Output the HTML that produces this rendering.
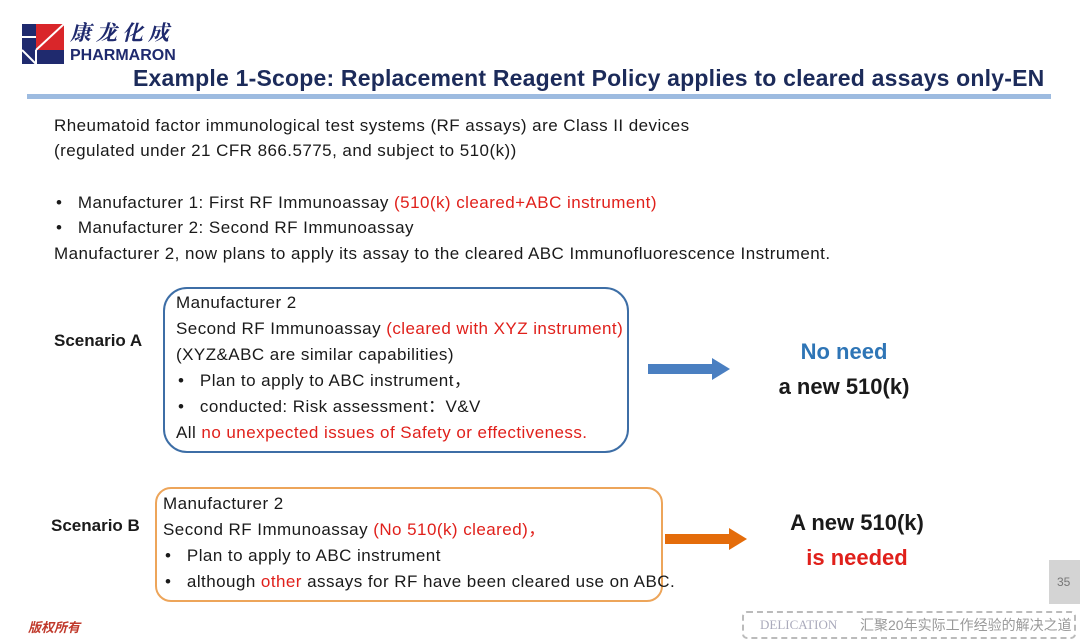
<!DOCTYPE html>
<html><head><meta charset="utf-8"><style>
body{margin:0;width:1080px;height:644px;background:#fff;position:relative;overflow:hidden;font-family:"Liberation Sans","Noto Sans CJK SC",sans-serif;color:#1a1a1a}
.t{position:absolute;white-space:nowrap;font-size:17px;line-height:20px;letter-spacing:0.45px}
.r{color:#e0201b}
.b{font-weight:bold}
</style></head><body>
<svg style="position:absolute;left:22px;top:24px" width="42" height="40">
<rect x="0" y="0" width="42" height="40" fill="#1f2a6e"/>
<polygon points="14,0 42,0 42,26 14,26" fill="#d9262a"/>
<line x1="14" y1="26" x2="42" y2="0" stroke="#fff" stroke-width="2"/>
<line x1="0" y1="26" x2="14" y2="40" stroke="#fff" stroke-width="2"/>
<line x1="14" y1="26" x2="14" y2="40" stroke="#fff" stroke-width="2"/>
<line x1="0" y1="13" x2="14" y2="13" stroke="#fff" stroke-width="2"/>
</svg>
<div class="t b" style="left:70px;top:22px;font-size:21px;color:#1f2a6e;font-family:'Noto Serif CJK SC',serif;letter-spacing:5px;font-style:italic">康龙化成</div>
<div class="t b" style="left:70px;top:46px;font-size:16px;color:#1f2a6e;letter-spacing:0">PHARMARON</div>
<div class="t b" style="left:133px;top:64px;font-size:23px;line-height:28px;color:#1c2b5a;letter-spacing:0.2px">Example 1-Scope: Replacement Reagent Policy applies to cleared assays only-EN</div>
<div style="position:absolute;left:27px;top:94px;width:1024px;height:5px;background:#9dbbe0"></div>

<div class="t" style="left:54px;top:116px">Rheumatoid factor immunological test systems (RF assays) are Class II devices</div>
<div class="t" style="left:54px;top:141px">(regulated under 21 CFR 866.5775, and subject to 510(k))</div>
<div class="t" style="left:56px;top:193px">•&nbsp;&nbsp;&nbsp;Manufacturer 1: First RF Immunoassay <span class="r">(510(k) cleared+ABC instrument)</span></div>
<div class="t" style="left:56px;top:218px">•&nbsp;&nbsp;&nbsp;Manufacturer 2: Second RF Immunoassay</div>
<div class="t" style="left:54px;top:244px">Manufacturer 2, now plans to apply its assay to the cleared ABC Immunofluorescence Instrument.</div>

<div style="position:absolute;left:163px;top:287px;width:462px;height:162px;border:2px solid #3d6ea6;border-radius:24px"></div>
<div class="t b" style="left:54px;top:331px;letter-spacing:0">Scenario A</div>
<div class="t" style="left:176px;top:293px">Manufacturer 2</div>
<div class="t" style="left:176px;top:319px">Second RF Immunoassay <span class="r">(cleared with XYZ instrument)</span></div>
<div class="t" style="left:176px;top:345px">(XYZ&amp;ABC are similar capabilities)</div>
<div class="t" style="left:178px;top:371px">•&nbsp;&nbsp;&nbsp;Plan to apply to ABC instrument，</div>
<div class="t" style="left:178px;top:397px">•&nbsp;&nbsp;&nbsp;conducted: Risk assessment：V&amp;V</div>
<div class="t" style="left:176px;top:423px">All <span class="r">no unexpected issues of Safety or effectiveness.</span></div>
<svg style="position:absolute;left:646px;top:356px" width="86" height="26"><rect x="2" y="8" width="66" height="10" fill="#4a7fc1"/><polygon points="66,2 84,13 66,24" fill="#4a7fc1"/></svg>
<div class="t b" style="left:744px;top:339px;width:200px;text-align:center;font-size:22px;line-height:26px;color:#2e75b6;letter-spacing:0">No need</div>
<div class="t b" style="left:744px;top:374px;width:200px;text-align:center;font-size:22px;line-height:26px;letter-spacing:0">a new 510(k)</div>

<div style="position:absolute;left:155px;top:487px;width:504px;height:111px;border:2px solid #eda55a;border-radius:16px"></div>
<div class="t b" style="left:51px;top:516px;letter-spacing:0">Scenario B</div>
<div class="t" style="left:163px;top:494px">Manufacturer 2</div>
<div class="t" style="left:163px;top:520px">Second RF Immunoassay <span class="r">(No 510(k) cleared)，</span></div>
<div class="t" style="left:165px;top:546px">•&nbsp;&nbsp;&nbsp;Plan to apply to ABC instrument</div>
<div class="t" style="left:165px;top:572px">•&nbsp;&nbsp;&nbsp;although <span class="r">other</span> assays for RF have been cleared use on ABC.</div>
<svg style="position:absolute;left:663px;top:526px" width="86" height="26"><rect x="2" y="8" width="66" height="10" fill="#e46c0a"/><polygon points="66,2 84,13 66,24" fill="#e46c0a"/></svg>
<div class="t b" style="left:757px;top:510px;width:200px;text-align:center;font-size:22px;line-height:26px;letter-spacing:0">A new 510(k)</div>
<div class="t b r" style="left:757px;top:545px;width:200px;text-align:center;font-size:22px;line-height:26px;letter-spacing:0">is needed</div>

<div style="position:absolute;left:1049px;top:560px;width:31px;height:44px;background:#d4d4d4"></div>
<div class="t" style="left:1057px;top:572px;font-size:12px;color:#777;letter-spacing:0">35</div>
<div class="t b" style="left:28px;top:618px;font-size:13px;color:#c0392b;font-style:italic;letter-spacing:0">版权所有</div>
<div style="position:absolute;left:742px;top:611px;width:330px;height:24px;border:2px dashed #bbb;border-radius:5px"></div>
<div class="t" style="left:760px;top:615px;font-size:13px;color:#aab;font-family:'Liberation Serif',serif;letter-spacing:0">DELICATION</div>
<div class="t" style="left:860px;top:615px;font-size:14px;color:#999;letter-spacing:0">汇聚20年实际工作经验的解决之道</div>
</body></html>
